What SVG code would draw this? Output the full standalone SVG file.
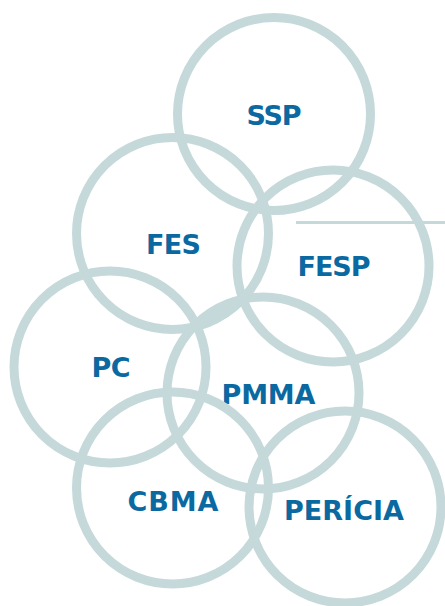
<svg xmlns="http://www.w3.org/2000/svg" width="445" height="606" viewBox="0 0 445 606">
<style>
.ring{fill:none;stroke:#c5d9db;stroke-width:9}
.lbl{font-family:"DejaVu Sans","Liberation Sans",Arial,sans-serif;font-weight:bold;font-size:27px;fill:#0b69a1;text-anchor:middle}
</style>
<rect width="445" height="606" fill="#ffffff"/>
<g id="connectors">
<line x1="296" y1="222.5" x2="445" y2="222.5" stroke="#c5d9db" stroke-width="3"/>
</g>
<g id="ssp"><circle class="ring" cx="274" cy="114" r="96.5"/><text class="lbl" x="274" y="125" textLength="55">SSP</text></g>
<g id="fes"><circle class="ring" cx="172.5" cy="233.5" r="96"/><text class="lbl" x="173.5" y="254" textLength="55">FES</text></g>
<g id="fesp"><circle class="ring" cx="333" cy="266" r="96"/><text class="lbl" x="334" y="276" textLength="73">FESP</text></g>
<g id="pc"><circle class="ring" cx="110" cy="367" r="96"/><text class="lbl" x="111" y="377" textLength="39">PC</text></g>
<g id="pmma"><circle class="ring" cx="263" cy="393" r="96"/><text class="lbl" x="268.5" y="404" textLength="94">PMMA</text></g>
<g id="cbma"><circle class="ring" cx="172.5" cy="488" r="96"/><text class="lbl" x="173" y="511" textLength="91">CBMA</text></g>
<g id="pericia"><circle class="ring" cx="345" cy="507" r="96"/><text class="lbl" x="344" y="519.5" textLength="120">PERÍCIA</text></g>
</svg>
